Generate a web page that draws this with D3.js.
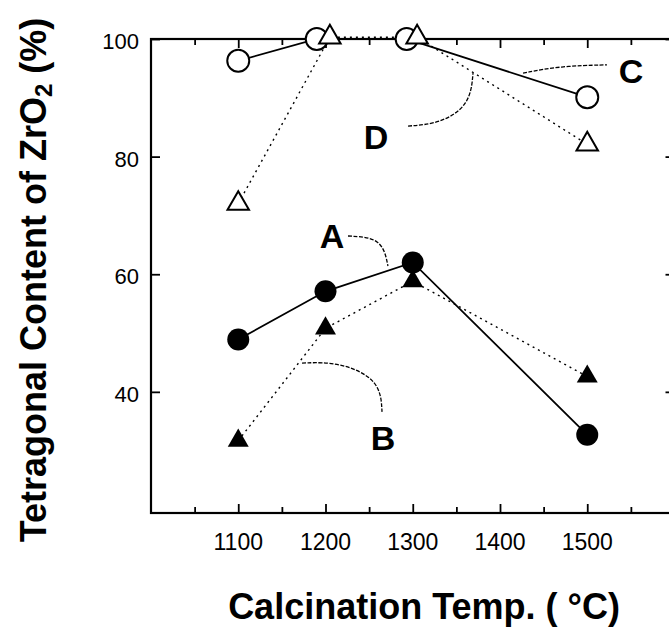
<!DOCTYPE html>
<html>
<head>
<meta charset="utf-8">
<script src="https://cdn.jsdelivr.net/npm/d3@7"></script>
<style>
  html, body { margin: 0; padding: 0; background: #fff; }
  svg { display: block; font-family: "Liberation Sans", Arial, Helvetica, sans-serif; }
</style>
</head>
<body>
<div id="chart"></div>
<script>
// values
let temps = [1100, 1200, 1300, 1500];
let seriesA = [48.9, 57.1, 62.0, 32.7];   // filled circles, solid
let seriesB = [31.7, 50.8, 58.8, 42.6];   // filled triangles, dotted
let tempsC = [1100, 1190, 1293, 1500];
let seriesC = [96.3, 100, 100, 90.1];     // open circles, solid
let tempsD = [1100, 1205, 1305, 1500];
let seriesD = [72.0, 100.3, 100.3, 82.1]; // open triangles, dotted

let xTicks = [1100, 1200, 1300, 1400, 1500];
let xMinor = [1050, 1150, 1250, 1350, 1450, 1550];
let yTicks = [40, 60, 80, 100];

// annotation letters and leader curves, in data units
let labelText = ["A", "B", "C", "D"];
let labelPos = [[1207.4, 64.5], [1265.9, 30.1], [1550.1, 92.5], [1257.9, 81.3]];
let leaders = [
    [[1225.8, 66.5], [1264.8, 66.2], [1271.6, 61.4]],
    [[1173.1, 44.9], [1216.6, 45.1], [1262.5, 42.0], [1264.8, 36.6]],
    [[1426.4, 94.2], [1468.8, 95.4], [1522.6, 95.6]],
    [[1294.6, 85.2], [1331.2, 85.6], [1365.6, 88.8], [1369.1, 94.2]]
];

const width = 669, height = 627;

let svg = d3.select("#chart")
    .append("svg")
    .attr("width", width)
    .attr("height", height);

let x = d3.scaleLinear().domain([1000, 1600]).range([151, 674.5]);
let y = d3.scaleLinear().domain([19.4, 100]).range([513, 39]);

// frame
svg.append("rect")
    .attr("x", x(1000)).attr("y", y(100))
    .attr("width", x(1600) - x(1000)).attr("height", y(19.4) - y(100))
    .attr("fill", "none").attr("stroke", "#000").attr("stroke-width", 2.2);

// inward ticks on all sides
function ticks(axis, vals, size) {
    svg.append("g")
        .attr("transform", axis.t)
        .call(axis.a(axis.s).tickValues(vals).tickSize(size).tickFormat(""))
        .call(g => g.select(".domain").remove())
        .selectAll("line").attr("stroke-width", 1.8);
}
ticks({a: d3.axisTop, s: x, t: `translate(0,${y(19.4)})`}, xTicks, 9);
ticks({a: d3.axisTop, s: x, t: `translate(0,${y(19.4)})`}, xMinor, 6);
ticks({a: d3.axisBottom, s: x, t: `translate(0,${y(100)})`}, xTicks, 9);
ticks({a: d3.axisBottom, s: x, t: `translate(0,${y(100)})`}, xMinor, 6);
ticks({a: d3.axisRight, s: y, t: `translate(${x(1000)},0)`}, yTicks, 9);
ticks({a: d3.axisLeft, s: y, t: `translate(${x(1600)},0)`}, yTicks, 9);

// tick labels
svg.append("g").selectAll("text").data(xTicks).enter()
    .append("text")
    .attr("x", d => x(d))
    .attr("y", 550)
    .attr("text-anchor", "middle")
    .style("font-size", "23px")
    .text(d => d);

svg.append("g").selectAll("text").data(yTicks).enter()
    .append("text")
    .attr("x", 139)
    .attr("y", d => y(d) + 10)
    .attr("text-anchor", "end")
    .style("font-size", "22px")
    .text(d => d);

// axis titles
svg.append("text")
    .attr("x", 424)
    .attr("y", 619)
    .attr("text-anchor", "middle")
    .style("font-size", "36px")
    .style("font-weight", "bold")
    .text("Calcination Temp. ( °C)");

let yl = svg.append("text")
    .attr("transform", "translate(46,280) rotate(-90)")
    .attr("text-anchor", "middle")
    .style("font-size", "36px")
    .style("font-weight", "bold");
yl.append("tspan").text("Tetragonal Content of ZrO");
yl.append("tspan").attr("dy", 6).style("font-size", "24px").text("2");
yl.append("tspan").attr("dy", -6).text(" (%)");

// lines
function pts(xs, ys) { return xs.map((d, i) => [x(d), y(ys[i])]); }
let line = d3.line();

svg.append("path").attr("d", line(pts(temps, seriesB)))
    .attr("fill", "none").attr("stroke", "#000").attr("stroke-width", 1.4)
    .attr("stroke-dasharray", "2,4");
svg.append("path").attr("d", line(pts(tempsD, seriesD)))
    .attr("fill", "none").attr("stroke", "#000").attr("stroke-width", 1.4)
    .attr("stroke-dasharray", "2,4");
svg.append("path").attr("d", line(pts(temps, seriesA)))
    .attr("fill", "none").attr("stroke", "#000").attr("stroke-width", 1.8);
svg.append("path").attr("d", line(pts(tempsC, seriesC)))
    .attr("fill", "none").attr("stroke", "#000").attr("stroke-width", 1.8);

// leader curves
let curve = d3.line().curve(d3.curveBasis);
svg.append("g").selectAll("path").data(leaders).enter()
    .append("path")
    .attr("d", d => curve(d.map(p => [x(p[0]), y(p[1])])))
    .attr("fill", "none").attr("stroke", "#000").attr("stroke-width", 1.3)
    .attr("stroke-dasharray", "4,1.5");

// markers
let tri = d3.symbol().type(d3.symbolTriangle);

svg.append("g").selectAll("circle").data(seriesC).enter()
    .append("circle")
    .attr("cx", (d, i) => x(tempsC[i]))
    .attr("cy", d => y(d))
    .attr("r", 11)
    .attr("fill", "#fff").attr("stroke", "#000").attr("stroke-width", 2);

svg.append("g").selectAll("path").data(seriesD).enter()
    .append("path")
    .attr("d", tri.size(200))
    .attr("transform", (d, i) => `translate(${x(tempsD[i])},${y(d)})`)
    .attr("fill", "#fff").attr("stroke", "#000").attr("stroke-width", 2);

svg.append("g").selectAll("path").data(seriesB).enter()
    .append("path")
    .attr("d", tri.size(190))
    .attr("transform", (d, i) => `translate(${x(temps[i])},${y(d)})`)
    .attr("fill", "#000");

svg.append("g").selectAll("circle").data(seriesA).enter()
    .append("circle")
    .attr("cx", (d, i) => x(temps[i]))
    .attr("cy", d => y(d))
    .attr("r", 11)
    .attr("fill", "#000");

// annotation letters
svg.append("g").selectAll("text").data(labelText).enter()
    .append("text")
    .attr("x", (d, i) => x(labelPos[i][0]))
    .attr("y", (d, i) => y(labelPos[i][1]))
    .attr("text-anchor", "middle")
    .style("font-size", "34px")
    .style("font-weight", "bold")
    .text(d => d);
</script>
</body>
</html>
